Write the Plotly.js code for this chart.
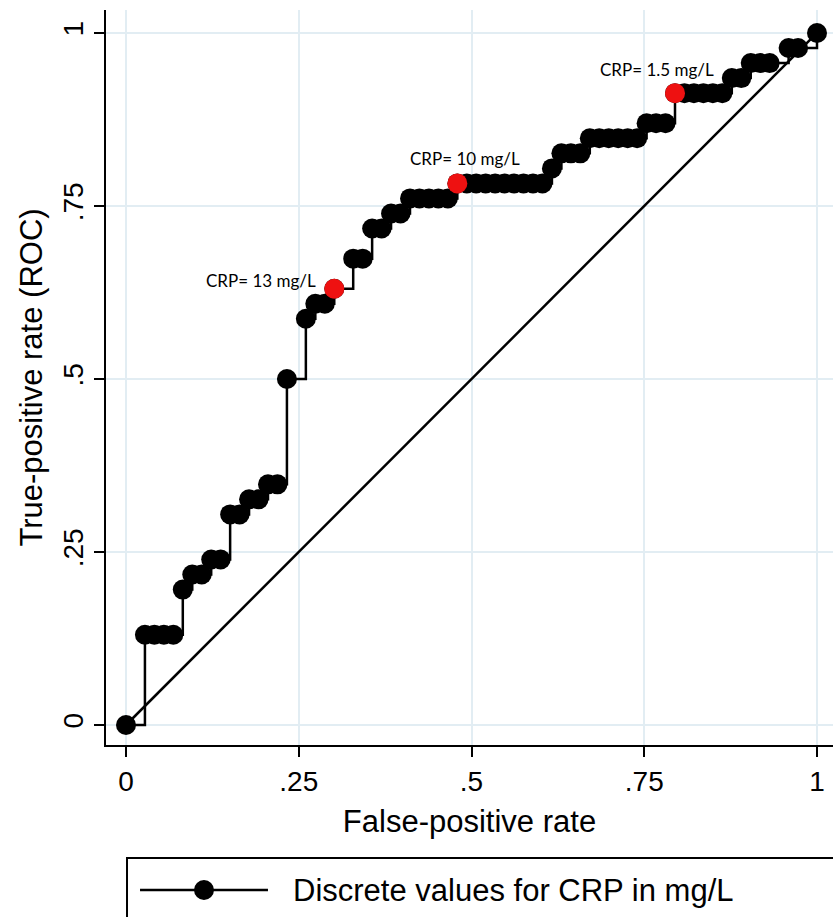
<!DOCTYPE html>
<html>
<head>
<meta charset="utf-8">
<script src="https://cdn.plot.ly/plotly-3.0.1.min.js"></script>
<style>html,body{margin:0;padding:0;background:#fff;}#chart{width:833px;height:917px;}</style>
</head>
<body>
<div id="chart"></div>
<script>
// ROC points (false-positive rate, true-positive rate) for discrete CRP cut-offs
const fpr = [0, 0.0274, 0.0411, 0.0548, 0.0685, 0.0822, 0.0959, 0.1096, 0.1233, 0.1370,
  0.1507, 0.1644, 0.1781, 0.1918, 0.2055, 0.2192, 0.2329, 0.2603, 0.2740, 0.2877,
  0.3014, 0.3288, 0.3425, 0.3562, 0.3699, 0.3836, 0.3973, 0.4110, 0.4247, 0.4384,
  0.4521, 0.4658, 0.4795, 0.4932, 0.5068, 0.5205, 0.5342, 0.5479, 0.5616, 0.5753,
  0.5890, 0.6027, 0.6164, 0.6301, 0.6438, 0.6575, 0.6712, 0.6849, 0.6986, 0.7123,
  0.7260, 0.7397, 0.7534, 0.7671, 0.7808, 0.7945, 0.8082, 0.8219, 0.8356, 0.8493,
  0.8630, 0.8767, 0.8904, 0.9041, 0.9178, 0.9315, 0.9589, 0.9726, 1];
const tpr = [0, 0.1304, 0.1304, 0.1304, 0.1304, 0.1957, 0.2174, 0.2174, 0.2391, 0.2391,
  0.3043, 0.3043, 0.3261, 0.3261, 0.3478, 0.3478, 0.5, 0.5870, 0.6087, 0.6087,
  0.6304, 0.6739, 0.6739, 0.7174, 0.7174, 0.7391, 0.7391, 0.7609, 0.7609, 0.7609,
  0.7609, 0.7609, 0.7826, 0.7826, 0.7826, 0.7826, 0.7826, 0.7826, 0.7826, 0.7826,
  0.7826, 0.7826, 0.8043, 0.8261, 0.8261, 0.8261, 0.8478, 0.8478, 0.8478, 0.8478,
  0.8478, 0.8478, 0.8696, 0.8696, 0.8696, 0.9130, 0.9130, 0.9130, 0.9130, 0.9130,
  0.9130, 0.9348, 0.9348, 0.9565, 0.9565, 0.9565, 0.9783, 0.9783, 1];

// Highlighted cut-offs
const cutFpr = [0.3014, 0.4795, 0.7945];
const cutTpr = [0.6304, 0.7826, 0.9130];
const cutLabels = ['CRP= 13 mg/L', 'CRP= 10 mg/L', 'CRP= 1.5 mg/L'];

// Reference (chance) line
const refX = [0, 1];
const refY = [0, 1];

const tickVals = [0, 0.25, 0.5, 0.75, 1];
const tickText = ['0', '.25', '.5', '.75', '1'];
const legendLabel = 'Discrete values for CRP in mg/L';

const FONT = 'Liberation Sans, Arial, Helvetica, sans-serif';

const traces = [
  {x: refX, y: refY, mode: 'lines', line: {color: '#000', width: 2.5}, showlegend: false, hoverinfo: 'skip'},
  {x: fpr, y: tpr, mode: 'lines+markers', line: {color: '#000', width: 2.5, shape: 'hv'},
   marker: {color: '#000', size: 20}, name: legendLabel, showlegend: false},
  {x: cutFpr, y: cutTpr, mode: 'markers', marker: {color: '#ee1111', size: 20}, showlegend: false}
];

const shifts = [
  {xanchor: 'right', xshift: -16, yshift: 8},
  {xanchor: 'center', xshift: 8, yshift: 25},
  {xanchor: 'center', xshift: -18, yshift: 24}
];
const annotations = cutLabels.map((t, i) => ({
  x: cutFpr[i], y: cutTpr[i], xref: 'x', yref: 'y', text: t, showarrow: false,
  xanchor: shifts[i].xanchor, yanchor: 'middle', xshift: shifts[i].xshift, yshift: shifts[i].yshift,
  font: {family: 'Lato, Noto Sans, sans-serif', size: 17, color: '#000'}
}));
annotations.push({
  xref: 'paper', yref: 'paper', x: 0.2545, y: -0.1973, xanchor: 'left', yanchor: 'middle',
  text: legendLabel, showarrow: false, font: {family: FONT, size: 31, color: '#000'}
});

const shapes = [
  {type: 'rect', xref: 'paper', yref: 'paper', x0: 0.0289, x1: 1.02, y0: -0.1537, y1: -0.26,
   line: {color: '#000', width: 2}, fillcolor: 'rgba(0,0,0,0)'},
  {type: 'line', xref: 'paper', yref: 'paper', x0: 0.0468, x1: 0.2228, y0: -0.1973, y1: -0.1973,
   line: {color: '#000', width: 2.5}},
  {type: 'circle', xref: 'paper', yref: 'paper', xsizemode: 'pixel', ysizemode: 'pixel',
   xanchor: 0.1348, yanchor: -0.1973, x0: -10, x1: 10, y0: -10, y1: 10,
   fillcolor: '#000', line: {color: '#000', width: 0}}
];

const layout = {
  width: 833, height: 917,
  margin: {l: 106, r: 0, t: 10, b: 172},
  paper_bgcolor: '#fff', plot_bgcolor: '#fff',
  showlegend: false,
  xaxis: {
    range: [-0.02894, 1.02316], tickvals: tickVals, ticktext: tickText,
    showline: true, linecolor: '#000', linewidth: 2, mirror: false,
    ticks: 'outside', ticklen: 10, tickwidth: 2, tickcolor: '#000',
    showgrid: true, gridcolor: '#e2edf3', gridwidth: 2, zeroline: false,
    tickfont: {family: FONT, size: 28, color: '#000'},
    title: {text: 'False-positive rate', font: {family: FONT, size: 31, color: '#000'}, standoff: 15}
  },
  yaxis: {
    range: [-0.0289, 1.0332], tickvals: tickVals, ticktext: tickText,
    showline: true, linecolor: '#000', linewidth: 2, mirror: false,
    ticks: 'outside', ticklen: 10, tickwidth: 2, tickcolor: '#000', tickangle: -90,
    showgrid: true, gridcolor: '#e2edf3', gridwidth: 2, zeroline: false,
    tickfont: {family: FONT, size: 28, color: '#000'},
    title: {text: 'True-positive rate (ROC)', font: {family: FONT, size: 31, color: '#000'}, standoff: 6}
  },
  annotations: annotations,
  shapes: shapes
};

Plotly.newPlot('chart', traces, layout, {displayModeBar: false, staticPlot: true});
</script>
</body>
</html>
